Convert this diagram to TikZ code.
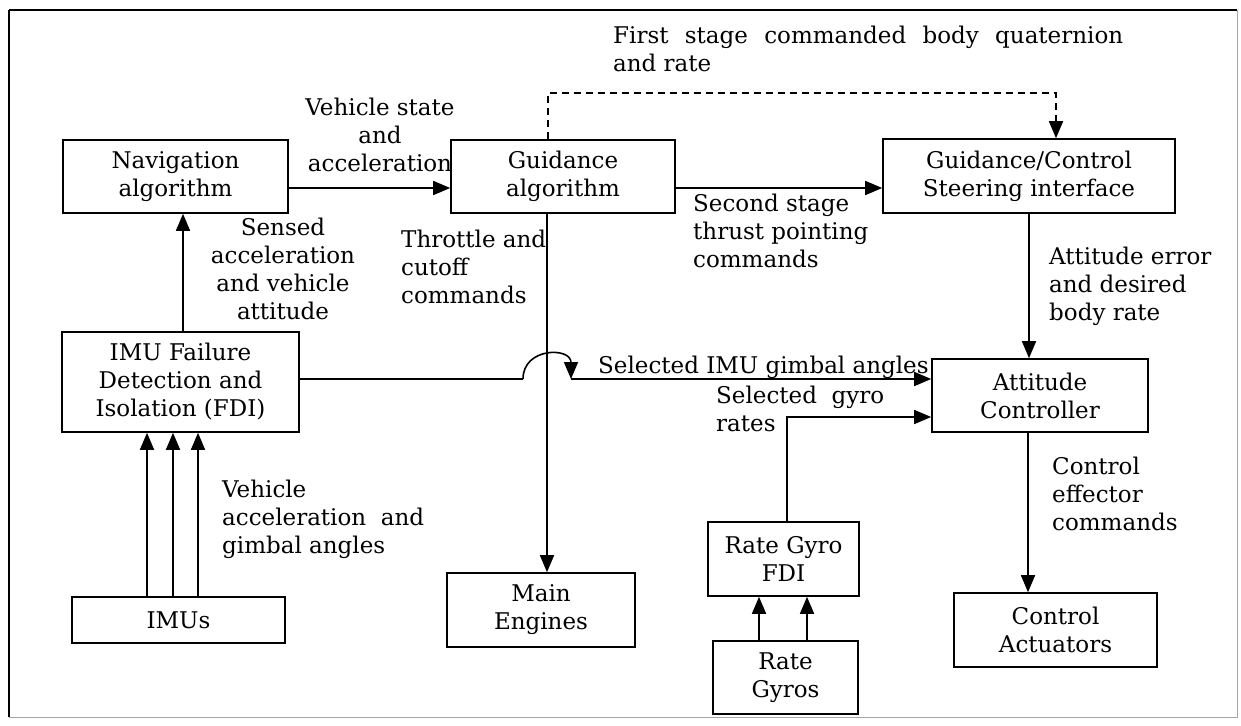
\documentclass[tikz,border=0pt]{standalone}
\usepackage{fontspec}
\setmainfont{DejaVu Serif}
\usetikzlibrary{arrows.meta}
\newcommand\dgfont{\fontsize{23}{28}\selectfont}
\begin{document}
\begin{tikzpicture}[x=1pt,y=-1pt,
  box/.style={draw,line width=1.6pt,align=center,inner sep=0pt,font=\dgfont,anchor=center},
  wire/.style={line width=1.6pt},
  tip/.tip={Triangle[length=17pt,width=14pt]},
  arr/.style={wire,-tip},
  dashline/.style={wire,dash pattern=on 7pt off 5pt},
  lbl/.style={font=\dgfont,inner sep=0pt,align=left},
]
\useasboundingbox (0,0) rectangle (1241,725);
% outer frame
\draw[line width=0.9pt,gray!70] (1237,10) -- (1237,717) -- (9,717);
\draw[line width=1.2pt] (9,717) -- (9,10);
\draw[line width=2.2pt] (9,10) -- (1237,10);

% blocks
\node[box,minimum width=225pt,minimum height=73pt] (nav)   at (175.5,176.5) {Navigation\\algorithm};
\node[box,minimum width=224pt,minimum height=73pt] (guid)  at (563,176.5)   {Guidance\\algorithm};
\node[box,minimum width=292pt,minimum height=74pt] (gcsi)  at (1029,176)    {Guidance/Control\\Steering interface};
\node[box,minimum width=237pt,minimum height=100pt] (fdi)  at (180.5,382)   {IMU Failure\\Detection and\\Isolation (FDI)};
\node[box,minimum width=213pt,minimum height=46pt] (imus)  at (178.5,620)   {IMUs};
\node[box,minimum width=188pt,minimum height=74pt] (main)  at (541,610)     {Main\\Engines};
\node[box,minimum width=216pt,minimum height=73pt] (att)   at (1040,395.5)  {Attitude\\Controller};
\node[box,minimum width=151pt,minimum height=74pt] (rgfdi) at (783.5,559)   {Rate Gyro\\FDI};
\node[box,minimum width=145pt,minimum height=73pt] (rg)    at (785.5,677.5) {Rate\\Gyros};
\node[box,minimum width=203pt,minimum height=74pt] (ca)    at (1055.5,630)  {Control\\Actuators};

% navigation to guidance and guidance outputs
\draw[arr] ([yshift=-11.5pt]nav.east) -- ([yshift=-11.5pt]guid.west);
\draw[arr] ([yshift=-11.5pt]guid.east) -- ([yshift=-12pt]gcsi.west);
\coordinate (dtop) at (548,93);
\draw[dashline,-tip]
  ([xshift=-15pt]guid.north) |- (dtop -| 1056,0) -- ([xshift=27pt]gcsi.north);
\draw[arr] ([xshift=-16pt]guid.south) -- ([xshift=-16pt]guid.south |- main.north);

% IMU path
\draw[arr] ([xshift=2.5pt]fdi.north) -- ([xshift=2.5pt]fdi.north |- nav.south);
\draw[arr] ([xshift=-31.5pt]imus.north) -- ([xshift=-31.5pt]imus.north |- fdi.south);
\draw[arr] ([xshift=-5.5pt]imus.north) -- ([xshift=-5.5pt]imus.north |- fdi.south);
\draw[arr] ([xshift=19.5pt]imus.north) -- ([xshift=19.5pt]imus.north |- fdi.south);

% gimbal angles line hopping over the engine command line
\coordinate (hopa) at (523,379);
\coordinate (hopb) at (571,379);
\draw[wire] ([yshift=3pt]fdi.east) -- (hopa);
\draw[arr] (hopa) .. controls (523,347) and (571,347) .. (hopb);
\draw[arr] (hopb) -- ([yshift=16.5pt]att.west);

% rate gyro path
\draw[arr] ([xshift=-26.5pt]rg.north) -- ([xshift=-26.5pt]rg.north |- rgfdi.south);
\draw[arr] ([xshift=21.5pt]rg.north) -- ([xshift=21.5pt]rg.north |- rgfdi.south);
\draw[arr] ([xshift=3.5pt]rgfdi.north) |- ([yshift=-21.5pt]att.west);

% steering and control
\draw[arr] (gcsi.south) -- (gcsi.south |- att.north);
\draw[arr] ([xshift=-12pt]att.south) -- ([xshift=-12pt]att.south |- ca.north);

% signal labels
\node[lbl,align=center] (l1) at (380,135) {Vehicle state\\and\\acceleration};
\node[lbl,align=center] (l2) at (283,269) {Sensed\\acceleration\\and vehicle\\attitude};
\node[lbl,anchor=west] (l3) at (401,267) {Throttle and\\cutoff\\commands};
\node[lbl,anchor=west] (l4) at (613,49) {\makebox[510pt][s]{First stage commanded body quaternion}\\and rate};
\node[lbl,anchor=west] (l5) at (693,231) {Second stage\\thrust pointing\\commands};
\node[lbl,anchor=west] (l6) at (1049,286) {Attitude error\\and desired\\body rate};
\node[lbl,anchor=base west] (l7) at (598,373) {Selected IMU gimbal angles};
\node[lbl,anchor=west] (l8) at (716,409) {Selected\ \ gyro\\rates};
\node[lbl,anchor=west] (l9) at (222,519) {Vehicle\\acceleration\ \ and\\gimbal angles};
\node[lbl,anchor=west] (l10) at (1052,494) {Control\\effector\\commands};
\end{tikzpicture}
\end{document}
